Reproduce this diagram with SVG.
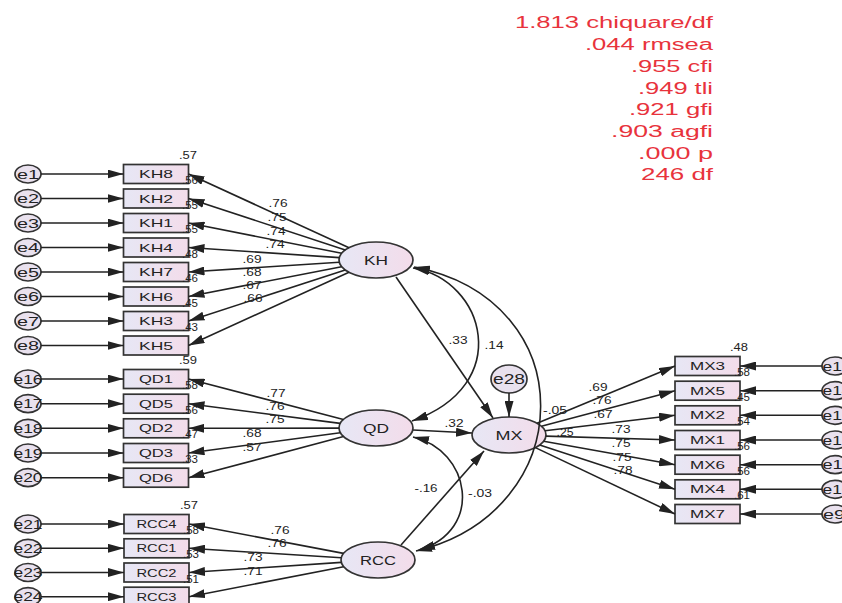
<svg xmlns="http://www.w3.org/2000/svg" width="842" height="603" viewBox="0 0 842 603">
<defs>
<linearGradient id="gf" x1="0" y1="0" x2="1" y2="0"><stop offset="0" stop-color="#e7e7f5"/><stop offset="1" stop-color="#f3dcea"/></linearGradient>
<marker id="ah" viewBox="0 0 16 9" refX="16" refY="4.5" markerWidth="16" markerHeight="9" markerUnits="userSpaceOnUse" orient="auto-start-reverse"><path d="M0,0L16,4.5L0,9z" fill="#222"/></marker>
</defs>
<style>
text{font-family:"Liberation Sans",Arial,sans-serif;fill:#222}
.bx{fill:url(#gf);stroke:#333;stroke-width:1.7}
.el{fill:url(#gf);stroke:#333;stroke-width:1.7}
.er{fill:#e9e1ee;stroke:#333;stroke-width:1.7}
.bl{font-size:11px;text-anchor:middle}
.ll{font-size:12px;text-anchor:middle}
.el-t{font-size:12px;text-anchor:middle}
.n{font-size:10px;text-anchor:middle}
.ln{stroke:#222;stroke-width:1.6;fill:none;marker-end:url(#ah)}
.bi{stroke:#222;stroke-width:1.6;fill:none;marker-end:url(#ah);marker-start:url(#ah)}
.fit{font-size:16px;text-anchor:end;fill:#e8333c}
</style>
<rect width="842" height="603" fill="#fff"/>

<g id="e1"><ellipse class="er" cx="28" cy="174" rx="13" ry="9"/><text class="ll" x="28" y="178.5" textLength="22" lengthAdjust="spacingAndGlyphs">e1</text></g>
<g id="e2"><ellipse class="er" cx="28" cy="198.5" rx="13" ry="9"/><text class="ll" x="28" y="203" textLength="22" lengthAdjust="spacingAndGlyphs">e2</text></g>
<g id="e3"><ellipse class="er" cx="28" cy="223" rx="13" ry="9"/><text class="ll" x="28" y="227.5" textLength="22" lengthAdjust="spacingAndGlyphs">e3</text></g>
<g id="e4"><ellipse class="er" cx="28" cy="247.5" rx="13" ry="9"/><text class="ll" x="28" y="252" textLength="22" lengthAdjust="spacingAndGlyphs">e4</text></g>
<g id="e5"><ellipse class="er" cx="28" cy="272" rx="13" ry="9"/><text class="ll" x="28" y="276.5" textLength="22" lengthAdjust="spacingAndGlyphs">e5</text></g>
<g id="e6"><ellipse class="er" cx="28" cy="296.5" rx="13" ry="9"/><text class="ll" x="28" y="301" textLength="22" lengthAdjust="spacingAndGlyphs">e6</text></g>
<g id="e7"><ellipse class="er" cx="28" cy="321" rx="13" ry="9"/><text class="ll" x="28" y="325.5" textLength="22" lengthAdjust="spacingAndGlyphs">e7</text></g>
<g id="e8"><ellipse class="er" cx="28" cy="345.5" rx="13" ry="9"/><text class="ll" x="28" y="350" textLength="22" lengthAdjust="spacingAndGlyphs">e8</text></g>

<g id="KH8"><rect class="bx" x="123.5" y="164.5" width="65" height="19"/><text class="bl" x="156" y="178" textLength="34" lengthAdjust="spacingAndGlyphs">KH8</text></g>
<g id="KH2"><rect class="bx" x="123.5" y="189" width="65" height="19"/><text class="bl" x="156" y="202.5" textLength="34" lengthAdjust="spacingAndGlyphs">KH2</text></g>
<g id="KH1"><rect class="bx" x="123.5" y="213.5" width="65" height="19"/><text class="bl" x="156" y="227" textLength="34" lengthAdjust="spacingAndGlyphs">KH1</text></g>
<g id="KH4"><rect class="bx" x="123.5" y="238" width="65" height="19"/><text class="bl" x="156" y="251.5" textLength="34" lengthAdjust="spacingAndGlyphs">KH4</text></g>
<g id="KH7"><rect class="bx" x="123.5" y="262.5" width="65" height="19"/><text class="bl" x="156" y="276" textLength="34" lengthAdjust="spacingAndGlyphs">KH7</text></g>
<g id="KH6"><rect class="bx" x="123.5" y="287" width="65" height="19"/><text class="bl" x="156" y="300.5" textLength="34" lengthAdjust="spacingAndGlyphs">KH6</text></g>
<g id="KH3"><rect class="bx" x="123.5" y="311.5" width="65" height="19"/><text class="bl" x="156" y="325" textLength="34" lengthAdjust="spacingAndGlyphs">KH3</text></g>
<g id="KH5"><rect class="bx" x="123.5" y="336" width="65" height="19"/><text class="bl" x="156" y="349.5" textLength="34" lengthAdjust="spacingAndGlyphs">KH5</text></g>

<g id="e16"><ellipse class="er" cx="28" cy="379" rx="13" ry="9"/><text class="ll" x="28" y="383.5" textLength="29" lengthAdjust="spacingAndGlyphs">e16</text></g>
<g id="e17"><ellipse class="er" cx="28" cy="403.7" rx="13" ry="9"/><text class="ll" x="28" y="408.2" textLength="29" lengthAdjust="spacingAndGlyphs">e17</text></g>
<g id="e18"><ellipse class="er" cx="28" cy="428.3" rx="13" ry="9"/><text class="ll" x="28" y="432.8" textLength="29" lengthAdjust="spacingAndGlyphs">e18</text></g>
<g id="e19"><ellipse class="er" cx="28" cy="453" rx="13" ry="9"/><text class="ll" x="28" y="457.5" textLength="29" lengthAdjust="spacingAndGlyphs">e19</text></g>
<g id="e20"><ellipse class="er" cx="28" cy="477.7" rx="13" ry="9"/><text class="ll" x="28" y="482.2" textLength="29" lengthAdjust="spacingAndGlyphs">e20</text></g>

<g id="QD1"><rect class="bx" x="123.5" y="369.5" width="65" height="19"/><text class="bl" x="156" y="383" textLength="34" lengthAdjust="spacingAndGlyphs">QD1</text></g>
<g id="QD5"><rect class="bx" x="123.5" y="394.2" width="65" height="19"/><text class="bl" x="156" y="407.7" textLength="34" lengthAdjust="spacingAndGlyphs">QD5</text></g>
<g id="QD2"><rect class="bx" x="123.5" y="418.8" width="65" height="19"/><text class="bl" x="156" y="432.3" textLength="34" lengthAdjust="spacingAndGlyphs">QD2</text></g>
<g id="QD3"><rect class="bx" x="123.5" y="443.5" width="65" height="19"/><text class="bl" x="156" y="457" textLength="34" lengthAdjust="spacingAndGlyphs">QD3</text></g>
<g id="QD6"><rect class="bx" x="123.5" y="468.2" width="65" height="19"/><text class="bl" x="156" y="481.7" textLength="34" lengthAdjust="spacingAndGlyphs">QD6</text></g>

<g id="e21"><ellipse class="er" cx="28" cy="524" rx="13" ry="9"/><text class="ll" x="28" y="528.5" textLength="29" lengthAdjust="spacingAndGlyphs">e21</text></g>
<g id="e22"><ellipse class="er" cx="28" cy="548.3" rx="13" ry="9"/><text class="ll" x="28" y="552.8" textLength="29" lengthAdjust="spacingAndGlyphs">e22</text></g>
<g id="e23"><ellipse class="er" cx="28" cy="572.5" rx="13" ry="9"/><text class="ll" x="28" y="577" textLength="29" lengthAdjust="spacingAndGlyphs">e23</text></g>
<g id="e24"><ellipse class="er" cx="28" cy="596.7" rx="13" ry="9"/><text class="ll" x="28" y="601.2" textLength="29" lengthAdjust="spacingAndGlyphs">e24</text></g>

<g id="RCC4"><rect class="bx" x="124" y="514.5" width="65" height="19"/><text class="bl" x="156.5" y="528" textLength="40" lengthAdjust="spacingAndGlyphs">RCC4</text></g>
<g id="RCC1"><rect class="bx" x="124" y="538.8" width="65" height="19"/><text class="bl" x="156.5" y="552.3" textLength="40" lengthAdjust="spacingAndGlyphs">RCC1</text></g>
<g id="RCC2"><rect class="bx" x="124" y="563" width="65" height="19"/><text class="bl" x="156.5" y="576.5" textLength="40" lengthAdjust="spacingAndGlyphs">RCC2</text></g>
<g id="RCC3"><rect class="bx" x="124" y="587.2" width="65" height="19"/><text class="bl" x="156.5" y="600.7" textLength="40" lengthAdjust="spacingAndGlyphs">RCC3</text></g>

<g id="MX3"><rect class="bx" x="675" y="356.5" width="65" height="19"/><text class="bl" x="707.5" y="370" textLength="35" lengthAdjust="spacingAndGlyphs">MX3</text></g>
<g id="MX5"><rect class="bx" x="675" y="381.2" width="65" height="19"/><text class="bl" x="707.5" y="394.7" textLength="35" lengthAdjust="spacingAndGlyphs">MX5</text></g>
<g id="MX2"><rect class="bx" x="675" y="405.8" width="65" height="19"/><text class="bl" x="707.5" y="419.3" textLength="35" lengthAdjust="spacingAndGlyphs">MX2</text></g>
<g id="MX1"><rect class="bx" x="675" y="430.5" width="65" height="19"/><text class="bl" x="707.5" y="444" textLength="35" lengthAdjust="spacingAndGlyphs">MX1</text></g>
<g id="MX6"><rect class="bx" x="675" y="455.2" width="65" height="19"/><text class="bl" x="707.5" y="468.7" textLength="35" lengthAdjust="spacingAndGlyphs">MX6</text></g>
<g id="MX4"><rect class="bx" x="675" y="479.8" width="65" height="19"/><text class="bl" x="707.5" y="493.3" textLength="35" lengthAdjust="spacingAndGlyphs">MX4</text></g>
<g id="MX7"><rect class="bx" x="675" y="504.5" width="65" height="19"/><text class="bl" x="707.5" y="518" textLength="35" lengthAdjust="spacingAndGlyphs">MX7</text></g>

<g id="e15"><ellipse class="er" cx="835" cy="366" rx="13" ry="9"/><text class="ll" x="837" y="370.5" textLength="29" lengthAdjust="spacingAndGlyphs">e15</text></g>
<g id="e14"><ellipse class="er" cx="835" cy="390.7" rx="13" ry="9"/><text class="ll" x="837" y="395.2" textLength="29" lengthAdjust="spacingAndGlyphs">e14</text></g>
<g id="e13"><ellipse class="er" cx="835" cy="415.3" rx="13" ry="9"/><text class="ll" x="837" y="419.8" textLength="29" lengthAdjust="spacingAndGlyphs">e13</text></g>
<g id="e12"><ellipse class="er" cx="835" cy="440" rx="13" ry="9"/><text class="ll" x="837" y="444.5" textLength="29" lengthAdjust="spacingAndGlyphs">e12</text></g>
<g id="e11"><ellipse class="er" cx="835" cy="464.7" rx="13" ry="9"/><text class="ll" x="837" y="469.2" textLength="29" lengthAdjust="spacingAndGlyphs">e11</text></g>
<g id="e10"><ellipse class="er" cx="835" cy="489.3" rx="13" ry="9"/><text class="ll" x="837" y="493.8" textLength="29" lengthAdjust="spacingAndGlyphs">e10</text></g>
<g id="e9"><ellipse class="er" cx="835" cy="514" rx="13" ry="9"/><text class="ll" x="834" y="518.5" textLength="22" lengthAdjust="spacingAndGlyphs">e9</text></g>

<g id="KH"><ellipse class="el" cx="376" cy="260" rx="37" ry="18"/><text class="el-t" x="376" y="264.5" textLength="24" lengthAdjust="spacingAndGlyphs">KH</text></g>
<g id="QD"><ellipse class="el" cx="376" cy="428" rx="37" ry="18"/><text class="el-t" x="376" y="432.5" textLength="26" lengthAdjust="spacingAndGlyphs">QD</text></g>
<g id="RCC"><ellipse class="el" cx="378" cy="560" rx="37" ry="18"/><text class="el-t" x="378" y="564.5" textLength="36" lengthAdjust="spacingAndGlyphs">RCC</text></g>
<g id="MX"><ellipse class="el" cx="509" cy="435" rx="37" ry="18"/><text class="el-t" x="509" y="439.5" textLength="27" lengthAdjust="spacingAndGlyphs">MX</text></g>
<g id="e28"><ellipse class="er" cx="509" cy="379" rx="18" ry="14"/><text class="el-t" x="509" y="384" style="font-size:14px" textLength="32" lengthAdjust="spacingAndGlyphs">e28</text></g>

<g id="labels">
<text class="n" x="278" y="207" textLength="19" lengthAdjust="spacingAndGlyphs">.76</text>
<text class="n" x="277" y="221" textLength="19" lengthAdjust="spacingAndGlyphs">.75</text>
<text class="n" x="276" y="235" textLength="19" lengthAdjust="spacingAndGlyphs">.74</text>
<text class="n" x="275" y="248" textLength="19" lengthAdjust="spacingAndGlyphs">.74</text>
<text class="n" x="252" y="263" textLength="19" lengthAdjust="spacingAndGlyphs">.69</text>
<text class="n" x="252" y="276" textLength="19" lengthAdjust="spacingAndGlyphs">.68</text>
<text class="n" x="252" y="289" textLength="19" lengthAdjust="spacingAndGlyphs">.67</text>
<text class="n" x="253" y="302" textLength="19" lengthAdjust="spacingAndGlyphs">.66</text>
<text class="n" x="276" y="397" textLength="19" lengthAdjust="spacingAndGlyphs">.77</text>
<text class="n" x="275" y="410" textLength="19" lengthAdjust="spacingAndGlyphs">.76</text>
<text class="n" x="275" y="423" textLength="19" lengthAdjust="spacingAndGlyphs">.75</text>
<text class="n" x="252" y="437" textLength="19" lengthAdjust="spacingAndGlyphs">.68</text>
<text class="n" x="252" y="451" textLength="19" lengthAdjust="spacingAndGlyphs">.57</text>
<text class="n" x="280" y="534" textLength="19" lengthAdjust="spacingAndGlyphs">.76</text>
<text class="n" x="277" y="547" textLength="19" lengthAdjust="spacingAndGlyphs">.76</text>
<text class="n" x="253" y="561" textLength="19" lengthAdjust="spacingAndGlyphs">.73</text>
<text class="n" x="253" y="575" textLength="19" lengthAdjust="spacingAndGlyphs">.71</text>
<text class="n" x="598" y="391" textLength="19" lengthAdjust="spacingAndGlyphs">.69</text>
<text class="n" x="602" y="404" textLength="19" lengthAdjust="spacingAndGlyphs">.76</text>
<text class="n" x="603" y="418" textLength="19" lengthAdjust="spacingAndGlyphs">.67</text>
<text class="n" x="621" y="433" textLength="19" lengthAdjust="spacingAndGlyphs">.73</text>
<text class="n" x="621" y="447" textLength="19" lengthAdjust="spacingAndGlyphs">.75</text>
<text class="n" x="622" y="461" textLength="19" lengthAdjust="spacingAndGlyphs">.75</text>
<text class="n" x="623" y="474" textLength="19" lengthAdjust="spacingAndGlyphs">.78</text>
<text class="n" x="458" y="344" textLength="19" lengthAdjust="spacingAndGlyphs">.33</text>
<text class="n" x="494" y="349" textLength="19" lengthAdjust="spacingAndGlyphs">.14</text>
<text class="n" x="454" y="427" textLength="19" lengthAdjust="spacingAndGlyphs">.32</text>
<text class="n" x="426" y="492" textLength="23" lengthAdjust="spacingAndGlyphs">-.16</text>
<text class="n" x="480" y="497" textLength="24" lengthAdjust="spacingAndGlyphs">-.03</text>
<text class="n" x="555" y="414" textLength="24" lengthAdjust="spacingAndGlyphs">-.05</text>
<text class="n" x="565" y="436" textLength="17" lengthAdjust="spacingAndGlyphs">.25</text>
<text class="n" x="188" y="159" textLength="18" lengthAdjust="spacingAndGlyphs">.57</text>
<text class="n" x="190" y="184" textLength="16" lengthAdjust="spacingAndGlyphs">.56</text>
<text class="n" x="190" y="208.5" textLength="16" lengthAdjust="spacingAndGlyphs">.55</text>
<text class="n" x="190" y="233" textLength="16" lengthAdjust="spacingAndGlyphs">.55</text>
<text class="n" x="190" y="257.5" textLength="16" lengthAdjust="spacingAndGlyphs">.48</text>
<text class="n" x="190" y="282" textLength="16" lengthAdjust="spacingAndGlyphs">.46</text>
<text class="n" x="190" y="306.5" textLength="16" lengthAdjust="spacingAndGlyphs">.45</text>
<text class="n" x="190" y="331" textLength="16" lengthAdjust="spacingAndGlyphs">.43</text>
<text class="n" x="188" y="364" textLength="18" lengthAdjust="spacingAndGlyphs">.59</text>
<text class="n" x="190" y="389" textLength="16" lengthAdjust="spacingAndGlyphs">.58</text>
<text class="n" x="190" y="413.7" textLength="16" lengthAdjust="spacingAndGlyphs">.56</text>
<text class="n" x="190" y="438.3" textLength="16" lengthAdjust="spacingAndGlyphs">.47</text>
<text class="n" x="190" y="463" textLength="16" lengthAdjust="spacingAndGlyphs">.33</text>
<text class="n" x="189" y="509" textLength="18" lengthAdjust="spacingAndGlyphs">.57</text>
<text class="n" x="191" y="534" textLength="16" lengthAdjust="spacingAndGlyphs">.58</text>
<text class="n" x="191" y="558.3" textLength="16" lengthAdjust="spacingAndGlyphs">.53</text>
<text class="n" x="191" y="582.5" textLength="16" lengthAdjust="spacingAndGlyphs">.51</text>
<text class="n" x="739" y="351" textLength="18" lengthAdjust="spacingAndGlyphs">.48</text>
<text class="n" x="742" y="376" textLength="16" lengthAdjust="spacingAndGlyphs">.58</text>
<text class="n" x="742" y="400.7" textLength="16" lengthAdjust="spacingAndGlyphs">.45</text>
<text class="n" x="742" y="425.3" textLength="16" lengthAdjust="spacingAndGlyphs">.54</text>
<text class="n" x="742" y="450" textLength="16" lengthAdjust="spacingAndGlyphs">.56</text>
<text class="n" x="742" y="474.7" textLength="16" lengthAdjust="spacingAndGlyphs">.56</text>
<text class="n" x="742" y="499.3" textLength="16" lengthAdjust="spacingAndGlyphs">.61</text>
</g>

<g id="connectors">
<line class="ln" x1="41" y1="174" x2="123.5" y2="174"/>
<line class="ln" x1="41" y1="198.5" x2="123.5" y2="198.5"/>
<line class="ln" x1="41" y1="223" x2="123.5" y2="223"/>
<line class="ln" x1="41" y1="247.5" x2="123.5" y2="247.5"/>
<line class="ln" x1="41" y1="272" x2="123.5" y2="272"/>
<line class="ln" x1="41" y1="296.5" x2="123.5" y2="296.5"/>
<line class="ln" x1="41" y1="321" x2="123.5" y2="321"/>
<line class="ln" x1="41" y1="345.5" x2="123.5" y2="345.5"/>
<line class="ln" x1="41" y1="379" x2="123.5" y2="379"/>
<line class="ln" x1="41" y1="403.7" x2="123.5" y2="403.7"/>
<line class="ln" x1="41" y1="428.3" x2="123.5" y2="428.3"/>
<line class="ln" x1="41" y1="453" x2="123.5" y2="453"/>
<line class="ln" x1="41" y1="477.7" x2="123.5" y2="477.7"/>
<line class="ln" x1="41" y1="524" x2="124" y2="524"/>
<line class="ln" x1="41" y1="548.3" x2="124" y2="548.3"/>
<line class="ln" x1="41" y1="572.5" x2="124" y2="572.5"/>
<line class="ln" x1="41" y1="596.7" x2="124" y2="596.7"/>
<line class="ln" x1="349" y1="247.7" x2="188.5" y2="174"/>
<line class="ln" x1="345.3" y1="250" x2="188.5" y2="198.5"/>
<line class="ln" x1="341.7" y1="253.3" x2="188.5" y2="223"/>
<line class="ln" x1="339.3" y1="257.6" x2="188.5" y2="247.5"/>
<line class="ln" x1="339.3" y1="262.3" x2="188.5" y2="272"/>
<line class="ln" x1="341.6" y1="266.7" x2="188.5" y2="296.5"/>
<line class="ln" x1="345.2" y1="270" x2="188.5" y2="321"/>
<line class="ln" x1="349" y1="272.3" x2="188.5" y2="345.5"/>
<line class="ln" x1="343.4" y1="419.5" x2="188.5" y2="379"/>
<line class="ln" x1="340.2" y1="423.4" x2="188.5" y2="403.7"/>
<line class="ln" x1="339" y1="428.1" x2="188.5" y2="428.3"/>
<line class="ln" x1="340.3" y1="432.7" x2="188.5" y2="453"/>
<line class="ln" x1="343.5" y1="436.6" x2="188.5" y2="477.7"/>
<line class="ln" x1="343.5" y1="553.4" x2="189" y2="524"/>
<line class="ln" x1="341.3" y1="557.7" x2="189" y2="548.3"/>
<line class="ln" x1="341.3" y1="562.4" x2="189" y2="572.5"/>
<line class="ln" x1="343.6" y1="566.7" x2="189" y2="596.7"/>
<line class="ln" x1="537.1" y1="423.3" x2="675" y2="366"/>
<line class="ln" x1="541.4" y1="426.3" x2="675" y2="390.7"/>
<line class="ln" x1="544.9" y1="430.7" x2="675" y2="415.3"/>
<line class="ln" x1="545.9" y1="436.1" x2="675" y2="440"/>
<line class="ln" x1="543.7" y1="441.2" x2="675" y2="464.7"/>
<line class="ln" x1="539.7" y1="445" x2="675" y2="489.3"/>
<line class="ln" x1="535.4" y1="447.6" x2="675" y2="514"/>
<line class="ln" x1="822" y1="366" x2="740" y2="366"/>
<line class="ln" x1="822" y1="390.7" x2="740" y2="390.7"/>
<line class="ln" x1="822" y1="415.3" x2="740" y2="415.3"/>
<line class="ln" x1="822" y1="440" x2="740" y2="440"/>
<line class="ln" x1="822" y1="464.7" x2="740" y2="464.7"/>
<line class="ln" x1="822" y1="489.3" x2="740" y2="489.3"/>
<line class="ln" x1="822" y1="514" x2="740" y2="514"/>
<line class="ln" x1="396" y1="277" x2="493" y2="418"/>
<line class="ln" x1="413" y1="430" x2="472" y2="433"/>
<line class="ln" x1="401" y1="545" x2="484" y2="451"/>
<line class="ln" x1="509" y1="393" x2="509" y2="417"/>
<path class="bi" d="M413,268 C485,280 515,385 412,421"/>
<path class="bi" d="M414,267 C585,300 580,512 416,551"/>
<path class="bi" d="M413,437 C470,450 485,530 419,550"/>
</g>

<g id="fit">
<text class="fit" x="713" y="28" textLength="198" lengthAdjust="spacingAndGlyphs">1.813 chiquare/df</text>
<text class="fit" x="713" y="50" textLength="128" lengthAdjust="spacingAndGlyphs">.044 rmsea</text>
<text class="fit" x="713" y="72" textLength="82" lengthAdjust="spacingAndGlyphs">.955 cfi</text>
<text class="fit" x="713" y="93.5" textLength="75" lengthAdjust="spacingAndGlyphs">.949 tli</text>
<text class="fit" x="713" y="115" textLength="84" lengthAdjust="spacingAndGlyphs">.921 gfi</text>
<text class="fit" x="713" y="137" textLength="102" lengthAdjust="spacingAndGlyphs">.903 agfi</text>
<text class="fit" x="713" y="158.5" textLength="75" lengthAdjust="spacingAndGlyphs">.000 p</text>
<text class="fit" x="713" y="180" textLength="72" lengthAdjust="spacingAndGlyphs">246 df</text>
</g>
</svg>
